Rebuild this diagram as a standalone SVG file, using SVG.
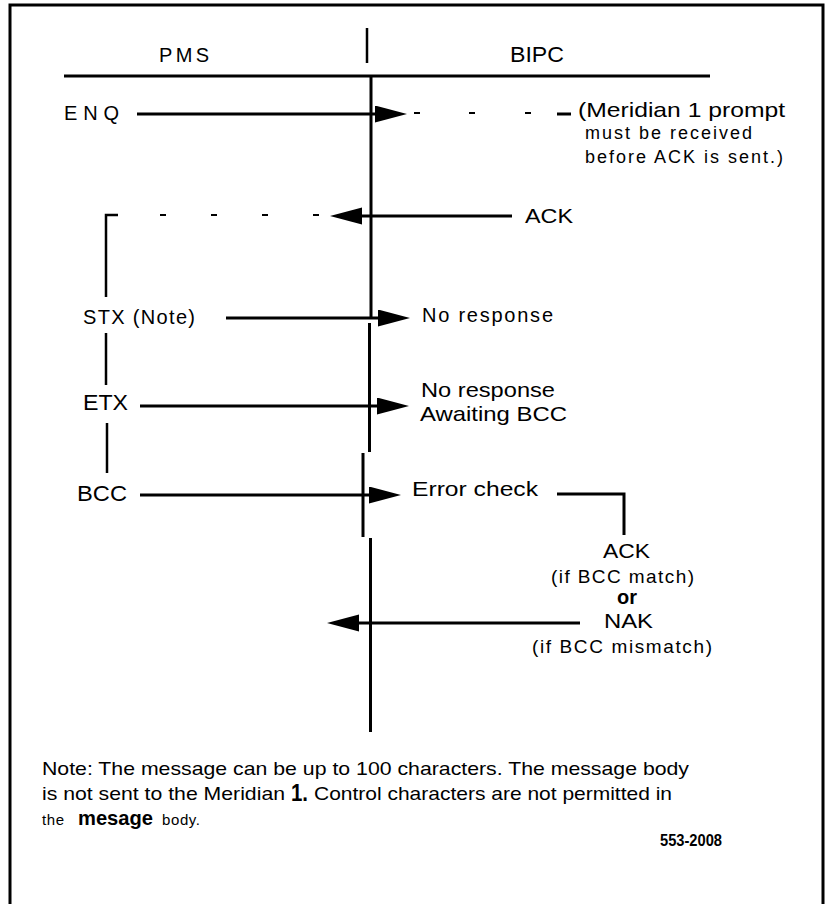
<svg xmlns="http://www.w3.org/2000/svg" width="831" height="904" viewBox="0 0 831 904">
<style>
.ln{stroke:#000;stroke-width:3;fill:none}
.thin{stroke:#000;stroke-width:2.5;fill:none}
.ds{stroke:#000;stroke-width:2;fill:none}
.t{font-family:"Liberation Sans",Arial,sans-serif;fill:#000}
.n{font-family:"Liberation Sans",Arial,sans-serif;fill:#000}
</style>
<defs>
<marker id="ah" markerUnits="userSpaceOnUse" markerWidth="34" markerHeight="18" refX="0" refY="8.5" orient="auto"><path d="M0,0 L32,8.5 L0,17 z" fill="#000"/></marker>
</defs>
<rect width="831" height="904" fill="#fff"/>
<g id="frame">
<path class="ln" d="M10,904 V5 H823 V904"/>
<line class="ln" x1="64" y1="76" x2="710" y2="76"/>
<line class="thin" x1="367" y1="28" x2="367" y2="63"/>
</g>
<g id="header">
<text class="n" x="159" y="62" font-size="20" textLength="50" lengthAdjust="spacing">PMS</text>
<text class="t" x="510" y="62" font-size="22" textLength="54" lengthAdjust="spacingAndGlyphs">BIPC</text>
</g>
<g id="connectors">
<line class="ln" x1="371" y1="76" x2="371" y2="318"/>
<line class="ln" x1="369.5" y1="323" x2="369.5" y2="452"/>
<line class="ln" x1="363" y1="453" x2="363" y2="537"/>
<line class="ln" x1="370.5" y1="538" x2="370.5" y2="732"/>
<line class="ln" x1="137" y1="114" x2="375" y2="114" marker-end="url(#ah)"/>
<line class="ds" x1="414" y1="113" x2="420" y2="113"/>
<line class="ds" x1="469" y1="113" x2="475" y2="113"/>
<line class="ds" x1="525" y1="113" x2="531" y2="113"/>
<line class="ln" x1="557" y1="114" x2="571" y2="114" stroke-width="3.5"/>
<line class="ln" x1="512" y1="216" x2="362" y2="216" marker-end="url(#ah)"/>
<line class="ds" x1="160" y1="215" x2="166" y2="215"/>
<line class="ds" x1="211" y1="215" x2="217" y2="215"/>
<line class="ds" x1="262" y1="215" x2="268" y2="215"/>
<line class="ds" x1="313" y1="215" x2="319" y2="215"/>
<path class="thin" d="M118,215 H106 V297"/>
<line class="thin" x1="106" y1="333" x2="106" y2="385"/>
<line class="thin" x1="107" y1="423" x2="107" y2="473"/>
<line class="ln" x1="226" y1="318" x2="378" y2="318" marker-end="url(#ah)"/>
<line class="ln" x1="140" y1="406" x2="377" y2="406" marker-end="url(#ah)"/>
<line class="ln" x1="140" y1="495" x2="369" y2="495" marker-end="url(#ah)"/>
<path class="ln" d="M557,494 H624 V535"/>
<line class="ln" x1="580" y1="623" x2="359" y2="623" marker-end="url(#ah)"/>
</g>
<g id="enq"><text class="n" x="64" y="120" font-size="20" textLength="55" lengthAdjust="spacing">ENQ</text></g>
<g id="prompt-note">
<text class="t" x="578" y="117" font-size="21" textLength="207" lengthAdjust="spacingAndGlyphs">(Meridian 1 prompt</text>
<text class="n" x="585" y="139" font-size="18" textLength="167" lengthAdjust="spacing">must be received</text>
<text class="n" x="585" y="163" font-size="18" textLength="198" lengthAdjust="spacing">before ACK is sent.)</text>
</g>
<g id="ack1"><text class="t" x="525" y="223" font-size="21" textLength="48" lengthAdjust="spacingAndGlyphs">ACK</text></g>
<g id="stx"><text class="n" x="83" y="324" font-size="20" textLength="112" lengthAdjust="spacing">STX (Note)</text></g>
<g id="noresp1"><text class="n" x="422" y="322" font-size="20" textLength="131" lengthAdjust="spacing">No response</text></g>
<g id="etx"><text class="t" x="83" y="410" font-size="22" textLength="45" lengthAdjust="spacingAndGlyphs">ETX</text></g>
<g id="noresp2">
<text class="t" x="421" y="397" font-size="21" textLength="134" lengthAdjust="spacingAndGlyphs">No response</text>
<text class="t" x="420" y="421" font-size="21" textLength="147" lengthAdjust="spacingAndGlyphs">Awaiting BCC</text>
</g>
<g id="bcc"><text class="t" x="77" y="501" font-size="22" textLength="50" lengthAdjust="spacingAndGlyphs">BCC</text></g>
<g id="errcheck"><text class="t" x="412" y="496" font-size="21" textLength="126" lengthAdjust="spacingAndGlyphs">Error check</text></g>
<g id="response">
<text class="t" x="603" y="558" font-size="21" textLength="47" lengthAdjust="spacingAndGlyphs">ACK</text>
<text class="n" x="551" y="583" font-size="19" textLength="143" lengthAdjust="spacing">(if BCC match)</text>
<text class="t" x="617" y="604" font-size="21" font-weight="bold" textLength="20" lengthAdjust="spacingAndGlyphs">or</text>
<text class="t" x="604" y="628" font-size="21" textLength="49" lengthAdjust="spacingAndGlyphs">NAK</text>
<text class="n" x="532" y="653" font-size="19" textLength="180" lengthAdjust="spacing">(if BCC mismatch)</text>
</g>
<g id="note">
<text class="t" x="42" y="775" font-size="19" textLength="647" lengthAdjust="spacingAndGlyphs">Note: The message can be up to 100 characters. The message body</text>
<text class="t" x="42" y="800" font-size="19" textLength="243" lengthAdjust="spacingAndGlyphs">is not sent to the Meridian</text>
<text class="t" x="291" y="801" font-size="24" font-weight="bold" textLength="17" lengthAdjust="spacingAndGlyphs">1.</text>
<text class="t" x="314" y="800" font-size="19" textLength="358" lengthAdjust="spacingAndGlyphs">Control characters are not permitted in</text>
<text class="n" x="42" y="825" font-size="15" textLength="22" lengthAdjust="spacing">the</text>
<text class="t" x="78" y="825" font-size="21" font-weight="bold" textLength="75" lengthAdjust="spacingAndGlyphs">mesage</text>
<text class="n" x="162" y="825" font-size="15" textLength="38" lengthAdjust="spacing">body.</text>
</g>
<g id="figid"><text class="n" x="660" y="846" font-size="16" font-weight="bold" textLength="62" lengthAdjust="spacingAndGlyphs">553-2008</text></g>
</svg>
